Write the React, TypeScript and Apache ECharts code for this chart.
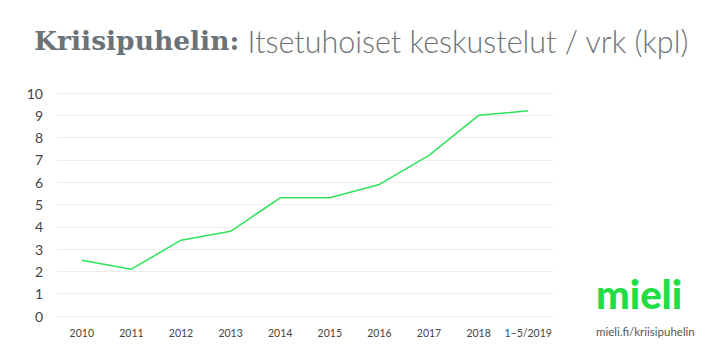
import React, { useEffect, useRef } from "react";
import * as echarts from "echarts";

const categories = ["2010", "2011", "2012", "2013", "2014", "2015", "2016", "2017", "2018", "1–5/2019"];
const values = [2.5, 2.1, 3.4, 3.8, 5.3, 5.3, 5.9, 7.2, 9.0, 9.2];
const titleBold = "Kriisipuhelin:";
const titleLight = " Itsetuhoiset keskustelut / vrk (kpl)";
const logoText = "mieli";
const urlText = "mieli.fi/kriisipuhelin";

export default function App() {
  const ref = useRef<HTMLDivElement>(null);
  useEffect(() => {
    const chart = echarts.init(ref.current!, null, { renderer: "svg" });
    chart.setOption({
      animation: false,
      backgroundColor: "#ffffff",
      title: {
        left: 29,
        top: 20,
        text: `{b|${titleBold}}{l|${titleLight}}`,
        textStyle: {
          rich: {
            b: { fontFamily: "DejaVu Serif", fontWeight: "bold", fontSize: 26.5, color: "#6c7378" },
            l: { fontFamily: "Lato", fontWeight: 300, fontSize: 30.5, color: "#6c7378" },
          },
        },
      },
      grid: { left: 57, right: 167, top: 93, bottom: 44, containLabel: false },
      xAxis: {
        type: "category",
        data: categories,
        boundaryGap: true,
        axisLine: { show: false },
        axisTick: { show: false },
        axisLabel: { color: "#444", fontFamily: "Lato", fontSize: 10.5, margin: 11, interval: 0 },
      },
      yAxis: {
        type: "value",
        min: 0,
        max: 10,
        interval: 1,
        axisLine: { show: false },
        axisTick: { show: false },
        splitLine: { lineStyle: { color: "#ececec", width: 1 } },
        axisLabel: { color: "#444", fontFamily: "Lato", fontSize: 14, margin: 14 },
      },
      series: [
        {
          type: "line",
          data: values,
          symbol: "none",
          lineStyle: { color: "#2ee35a", width: 1.5 },
        },
      ],
      graphic: [
        {
          type: "text",
          left: 596,
          top: 274,
          style: { text: logoText, fontFamily: "Lato", fontWeight: 900, fontSize: 40, fill: "#22dd44" },
        },
        {
          type: "text",
          left: 596,
          top: 325,
          style: { text: urlText, fontFamily: "Lato", fontSize: 11.5, fill: "#555" },
        },
      ],
    });
    return () => chart.dispose();
  }, []);
  return <div ref={ref} style={{ width: 720, height: 360, position: "absolute", left: 0, top: 0 }} />;
}
